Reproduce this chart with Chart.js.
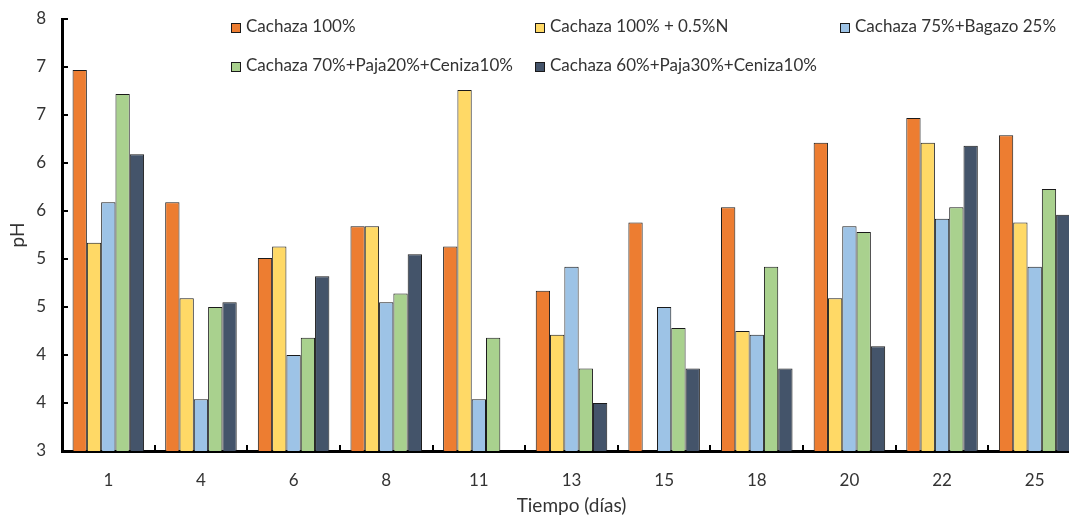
<!DOCTYPE html>
<html>
<head>
<meta charset="utf-8">
<script src="https://cdn.jsdelivr.net/npm/chart.js@4.4.1/dist/chart.umd.min.js"></script>
<style>
  body { margin: 0; overflow: hidden; background: #fff; }
  #wrap { position: relative; width: 1081px; height: 515px; }
  #phChart { position: absolute; left: 0; top: 0; }
  .leg { position: absolute; font-family: Lato, sans-serif; font-size: 17px; color: #333; white-space: nowrap; line-height: 20px; }
  .leg span.box { display: inline-block; width: 10px; height: 10px; border: 1px solid #1a1a1a; box-sizing: border-box; margin-right: 5px; vertical-align: -1px; }
</style>
</head>
<body>
<div id="wrap">
  <canvas id="phChart" width="1081" height="515"></canvas>
  <div id="legend"></div>
</div>
<script>
const days = ['1', '4', '6', '8', '11', '13', '15', '18', '20', '22', '25'];
const cachaza100 = [6.97, 5.59, 5.01, 5.34, 5.13, 4.67, 5.38, 5.54, 6.21, 6.47, 6.29];
const cachaza100N = [5.17, 4.59, 5.13, 5.34, 6.76, 4.21, null, 4.25, 4.59, 6.21, 5.38];
const cachaza75Bagazo = [5.59, 3.54, 4.00, 4.55, 3.54, 4.92, 4.50, 4.21, 5.34, 5.42, 4.92];
const cachaza70Paja = [6.72, 4.50, 4.18, 4.64, 4.18, 3.86, 4.28, 4.92, 5.28, 5.54, 5.73];
const cachaza60Paja = [6.09, 4.55, 4.82, 5.05, null, 3.50, 3.86, 3.86, 4.09, 6.18, 5.46];
const yTickLabels = ['3', '4', '4', '5', '5', '6', '6', '7', '7', '8'];

const seriesNames = [
  'Cachaza 100%',
  'Cachaza 100% + 0.5%N',
  'Cachaza 75%+Bagazo 25%',
  'Cachaza 70%+Paja20%+Ceniza10%',
  'Cachaza 60%+Paja30%+Ceniza10%'
];
const seriesData = [cachaza100, cachaza100N, cachaza75Bagazo, cachaza70Paja, cachaza60Paja];
const colors = ['#ED7D31', '#FFD966', '#9DC3E6', '#A9D18E', '#44546A'];

const FONT = 'Lato, sans-serif';
const TEXT = '#333';

// small inward tick marks like the original
const innerTicks = {
  id: 'innerTicks',
  afterDraw(chart) {
    const { ctx, chartArea, scales: { x, y } } = chart;
    ctx.save();
    ctx.strokeStyle = '#000';
    ctx.lineWidth = 2;
    const half = (x.getPixelForValue(1) - x.getPixelForValue(0)) / 2;
    for (let i = 1; i < days.length; i++) {
      const px = Math.round(x.getPixelForValue(i) - half);
      ctx.beginPath();
      ctx.moveTo(px, chartArea.bottom);
      ctx.lineTo(px, chartArea.bottom - 6);
      ctx.stroke();
    }
    y.ticks.forEach(t => {
      const py = Math.round(y.getPixelForValue(t.value));
      ctx.beginPath();
      ctx.moveTo(chartArea.left, py);
      ctx.lineTo(chartArea.left + 6, py);
      ctx.stroke();
    });
    ctx.restore();
  }
};

new Chart(document.getElementById('phChart'), {
  type: 'bar',
  data: {
    labels: days,
    datasets: seriesNames.map((name, i) => ({
      label: name,
      data: seriesData[i],
      backgroundColor: colors[i],
      borderColor: '#1a1a1a',
      borderWidth: 1,
      categoryPercentage: 0.772,
      barPercentage: 1
    }))
  },
  options: {
    responsive: false,
    animation: false,
    layout: { padding: { top: 19, right: 0, left: 0, bottom: 0 } },
    plugins: {
      legend: { display: false },
      tooltip: { enabled: false }
    },
    scales: {
      x: {
        grid: { display: false },
        border: { display: true, color: '#000', width: 3 },
        ticks: { color: TEXT, font: { family: FONT, size: 17 }, padding: 11 },
        title: { display: true, text: 'Tiempo (días)', color: TEXT, font: { family: FONT, size: 19, lineHeight: 1 }, padding: { top: 0, bottom: 0 } },
        afterFit(scale) { scale.height = 64; }
      },
      y: {
        min: 3,
        max: 7.5,
        grid: { display: false },
        border: { display: true, color: '#000', width: 3 },
        ticks: {
          stepSize: 0.5,
          color: TEXT,
          font: { family: FONT, size: 17 },
          padding: 8,
          callback: (v, i) => yTickLabels[i]
        },
        title: { display: true, text: 'pH', color: TEXT, font: { family: FONT, size: 19, lineHeight: 1 }, padding: { top: 8, bottom: 0 } },
        afterFit(scale) { scale.width = 62; }
      }
    }
  },
  plugins: [innerTicks]
});

// legend laid out in a fixed 3-column grid
const legendCols = [231, 535, 840];
const legendRows = [16, 55];
const legendEl = document.getElementById('legend');
seriesNames.forEach((name, i) => {
  const d = document.createElement('div');
  d.className = 'leg';
  d.style.left = legendCols[i % 3] + 'px';
  d.style.top = legendRows[Math.floor(i / 3)] + 'px';
  d.innerHTML = '<span class="box" style="background:' + colors[i] + '"></span>' + name;
  legendEl.appendChild(d);
});
</script>
</body>
</html>
